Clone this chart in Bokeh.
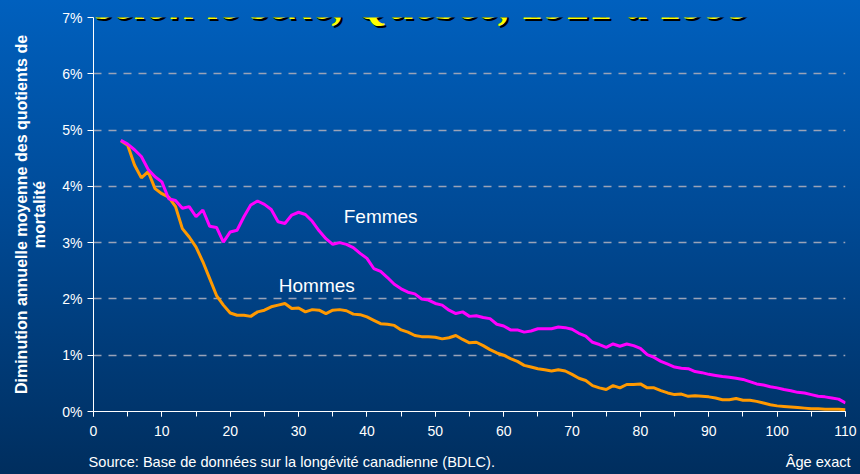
import math
from bokeh.plotting import figure
from bokeh.models import Range1d, FixedTicker, Label, LinearAxis
from bokeh.embed import file_html
from bokeh.resources import INLINE

# ---------------- data ----------------
ages = list(range(4, 111))
femmes = [4.82, 4.75, 4.65, 4.53, 4.30, 4.17, 4.08, 3.78, 3.75, 3.61,
          3.64, 3.46, 3.58, 3.29, 3.27, 3.01, 3.19, 3.22, 3.46, 3.67,
          3.74, 3.68, 3.59, 3.37, 3.34, 3.49, 3.54, 3.50, 3.38, 3.21,
          3.07, 2.97, 3.00, 2.97, 2.91, 2.81, 2.72, 2.54, 2.49, 2.38,
          2.26, 2.18, 2.12, 2.09, 2.00, 1.98, 1.92, 1.89, 1.80, 1.74,
          1.77, 1.69, 1.70, 1.67, 1.65, 1.55, 1.52, 1.45, 1.45, 1.41,
          1.43, 1.47, 1.47, 1.47, 1.50, 1.49, 1.46, 1.39, 1.34, 1.23,
          1.19, 1.14, 1.20, 1.16, 1.20, 1.17, 1.12, 1.01, 0.96, 0.89,
          0.84, 0.79, 0.77, 0.76, 0.71, 0.69, 0.66, 0.64, 0.62, 0.61,
          0.59, 0.57, 0.53, 0.49, 0.47, 0.44, 0.42, 0.39, 0.37, 0.34,
          0.33, 0.30, 0.27, 0.26, 0.24, 0.22, 0.15]
hommes = [4.81, 4.73, 4.38, 4.15, 4.26, 3.96, 3.87, 3.81, 3.64, 3.25,
          3.10, 2.92, 2.66, 2.36, 2.06, 1.89, 1.75, 1.71, 1.71, 1.69,
          1.77, 1.80, 1.86, 1.89, 1.92, 1.83, 1.84, 1.77, 1.81, 1.80,
          1.74, 1.80, 1.81, 1.79, 1.73, 1.72, 1.68, 1.62, 1.56, 1.55,
          1.53, 1.45, 1.41, 1.35, 1.33, 1.33, 1.32, 1.29, 1.31, 1.35,
          1.28, 1.22, 1.23, 1.17, 1.10, 1.04, 1.00, 0.94, 0.89, 0.82,
          0.79, 0.76, 0.74, 0.72, 0.74, 0.72, 0.66, 0.59, 0.55, 0.46,
          0.42, 0.39, 0.46, 0.42, 0.48, 0.48, 0.49, 0.42, 0.42, 0.37,
          0.33, 0.30, 0.31, 0.27, 0.28, 0.27, 0.26, 0.24, 0.21, 0.21,
          0.23, 0.20, 0.20, 0.18, 0.15, 0.12, 0.10, 0.09, 0.08, 0.07,
          0.06, 0.05, 0.05, 0.04, 0.04, 0.04, 0.03]
y_ticks = [0, 1, 2, 3, 4, 5, 6, 7]
y_tick_labels = ["0%", "1%", "2%", "3%", "4%", "5%", "6%", "7%"]
x_ticks = [0, 10, 20, 30, 40, 50, 60, 70, 80, 90, 100, 110]
x_minor_ticks = list(range(0, 111, 5))

title_text = "selon le sexe, Québec, 1921 à 1999"
y_title = "Diminution annuelle moyenne des quotients de\nmortalité"
source_text = "Source: Base de données sur la longévité canadienne (BDLC)."
x_title = "Âge exact"

# ---------------- figure ----------------
W, H = 860, 474
p = figure(width=W, height=H, output_backend="svg", toolbar_location=None,
           x_range=Range1d(0, 110), y_range=Range1d(0, 7),
           min_border_left=93, min_border_right=15,
           min_border_top=17, min_border_bottom=63)
p.styles = {"background": "linear-gradient(to bottom, #0060BE 0%, #004A96 45%, #002E5E 100%)"}
p.border_fill_alpha = 0
p.background_fill_alpha = 0
p.outline_line_color = None

# axes
for ax in (p.xaxis[0], p.yaxis[0]):
    ax.axis_line_color = "white"
    ax.axis_line_width = 1
    ax.major_tick_line_color = "white"
    ax.minor_tick_line_color = "white"
    ax.major_tick_in = 0
    ax.minor_tick_in = 0
    ax.major_label_text_color = "white"
    ax.major_label_text_font = "Liberation Sans"
    ax.major_label_text_font_size = "14px"

p.xaxis.ticker = FixedTicker(ticks=x_ticks, minor_ticks=x_minor_ticks)
p.xaxis.major_tick_out = 5
p.xaxis.minor_tick_out = 5
p.xaxis.major_label_standoff = 9

p.yaxis.ticker = FixedTicker(ticks=y_ticks, minor_ticks=[])
p.yaxis.major_label_overrides = {t: l for t, l in zip(y_ticks, y_tick_labels)}
p.yaxis.major_tick_out = 6
p.yaxis.major_label_standoff = 5
p.yaxis.axis_label = y_title
p.yaxis.axis_label_text_color = "white"
p.yaxis.axis_label_text_font = "Liberation Sans"
p.yaxis.axis_label_text_font_style = "bold"
p.yaxis.axis_label_text_font_size = "16px"
p.yaxis.axis_label_text_line_height = 1.1
p.yaxis.axis_label_standoff = 11

# second row under the x axis: source (left) and "Âge exact" (right)
SRC_POS = 29.0      # centre of the source line, in axis units
AGE_POS = 106.0     # centre of "Âge exact", in axis units
aux = LinearAxis(axis_line_color=None, major_tick_line_color=None,
                 minor_tick_line_color=None, major_tick_out=0, major_tick_in=0,
                 major_label_text_color="white",
                 major_label_text_font="Liberation Sans",
                 major_label_text_font_size="14.6px",
                 major_label_standoff=15)
aux.ticker = FixedTicker(ticks=[SRC_POS, AGE_POS], minor_ticks=[])
aux.major_label_overrides = {SRC_POS: source_text, AGE_POS: x_title}
p.add_layout(aux, "below")

p.xgrid.grid_line_color = None
p.ygrid.grid_line_color = "#9AA3B8"
p.ygrid.grid_line_dash = "8 7"
p.ygrid.grid_line_width = 1.5

# series
p.line(ages, hommes, line_color="#FF9900", line_width=3)
p.line(ages, femmes, line_color="#FF00FF", line_width=3)


def lab(x, y, text, **kw):
    opts = dict(text_color="white", text_font="Liberation Sans",
                text_font_size="14px", text_baseline="middle", text_align="left")
    opts.update(kw)
    p.add_layout(Label(x=x, y=y, text=text, **opts))


# in-plot labels
lab(36.6, 3.47, "Femmes", text_font_size="19px")
lab(27.1, 2.24, "Hommes", text_font_size="19px")

# title, cut off at the top edge as in the original (shadow + yellow)
lab(0.585, 7.205, title_text, text_color="black", text_font="Liberation Serif",
    text_font_style="bold italic", text_font_size="46px",
    text_baseline="alphabetic")
lab(0.29, 7.24, title_text, text_color="#FFFF00", text_font="Liberation Serif",
    text_font_style="bold italic", text_font_size="46px",
    text_baseline="alphabetic")

open("out.html", "w").write(file_html(p, INLINE))
